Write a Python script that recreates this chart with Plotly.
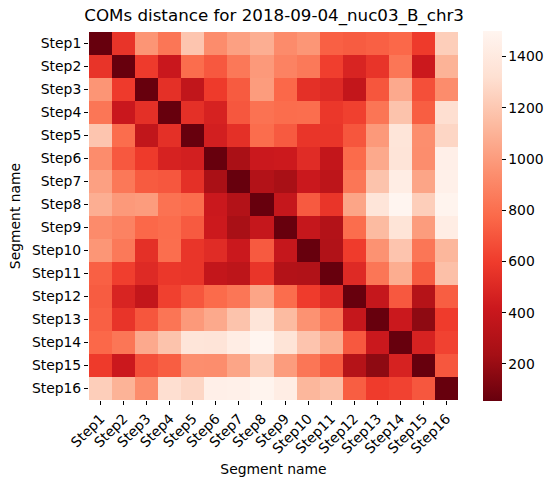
import plotly.graph_objects as go

labels = [f"Step{i}" for i in range(1, 17)]

distances = [
    [55, 560, 970, 830, 1190, 930, 1020, 1080, 925, 975, 740, 722, 740, 770, 590, 1230],
    [560, 55, 593, 405, 790, 710, 840, 990, 885, 845, 608, 480, 562, 830, 415, 1102],
    [970, 593, 55, 540, 370, 590, 720, 1000, 770, 540, 510, 380, 700, 1060, 675, 930],
    [830, 405, 540, 55, 540, 470, 705, 815, 790, 795, 575, 615, 828, 1178, 730, 1315],
    [1190, 790, 370, 540, 55, 450, 540, 790, 715, 565, 565, 700, 990, 1360, 938, 1270],
    [930, 710, 590, 470, 450, 55, 260, 410, 420, 520, 380, 780, 1058, 1355, 935, 1450],
    [1020, 840, 720, 705, 540, 260, 55, 300, 255, 410, 350, 830, 1178, 1430, 1040, 1460],
    [1080, 990, 1000, 815, 790, 410, 300, 55, 390, 715, 565, 1040, 1360, 1500, 1230, 1490],
    [925, 885, 770, 790, 715, 420, 255, 390, 55, 390, 300, 790, 1140, 1350, 1000, 1430],
    [975, 845, 540, 795, 565, 520, 410, 715, 390, 55, 295, 595, 960, 1185, 830, 1120],
    [740, 608, 510, 575, 565, 380, 350, 565, 300, 295, 55, 510, 830, 1075, 720, 1165],
    [722, 480, 380, 615, 700, 780, 830, 1040, 790, 595, 510, 55, 390, 710, 310, 730],
    [740, 562, 700, 828, 990, 1058, 1178, 1360, 1140, 960, 830, 390, 55, 410, 170, 595],
    [770, 830, 1060, 1178, 1360, 1355, 1430, 1500, 1350, 1185, 1075, 710, 410, 55, 470, 625],
    [590, 415, 675, 730, 938, 935, 1040, 1230, 1000, 830, 720, 310, 170, 470, 55, 705],
    [1230, 1102, 930, 1315, 1270, 1450, 1460, 1490, 1430, 1120, 1165, 730, 595, 625, 705, 55],
]

cbar_ticks = [200, 400, 600, 800, 1000, 1200, 1400]

reds_r = [
    [0.0, "rgb(103,0,13)"],
    [0.125, "rgb(165,15,21)"],
    [0.25, "rgb(203,24,29)"],
    [0.375, "rgb(239,59,44)"],
    [0.5, "rgb(251,106,74)"],
    [0.625, "rgb(252,146,114)"],
    [0.75, "rgb(252,187,161)"],
    [0.875, "rgb(254,224,210)"],
    [1.0, "rgb(255,245,240)"],
]

font = "DejaVu Sans"

fig = go.Figure(
    go.Heatmap(
        z=distances,
        x=labels,
        y=labels,
        colorscale=reds_r,
        zmin=55,
        zmax=1500,
        xgap=0,
        ygap=0,
        colorbar=dict(
            xref="container",
            x=483 / 556,
            xanchor="left",
            xpad=0,
            ypad=0,
            thickness=19,
            lenmode="pixels",
            len=370,
            y=0.5,
            yanchor="middle",
            outlinewidth=0,
            tickvals=cbar_ticks,
            ticks="outside",
            ticklen=4,
            tickwidth=1,
            tickcolor="black",
            tickfont=dict(family=font, size=13.9, color="black"),
        ),
    )
)

fig.update_layout(
    width=556,
    height=486,
    margin=dict(l=89, r=98, t=32, b=84),
    paper_bgcolor="white",
    plot_bgcolor="white",
    title=dict(
        text="COMs distance for 2018-09-04_nuc03_B_chr3",
        x=0.493,
        xanchor="center",
        y=1 - 15 / 486,
        yanchor="middle",
        font=dict(family=font, size=16.7, color="black"),
    ),
    font=dict(family=font, color="black"),
)

fig.update_xaxes(
    tickangle=-45,
    ticks="outside",
    ticklen=4,
    tickwidth=1,
    tickcolor="black",
    tickfont=dict(family=font, size=13.9, color="black"),
    showgrid=False,
    zeroline=False,
    showline=False,
    title=dict(text="Segment name", font=dict(family=font, size=13.9, color="black"), standoff=8),
)
fig.update_yaxes(
    autorange="reversed",
    ticks="outside",
    ticklen=4,
    tickwidth=1,
    tickcolor="black",
    tickfont=dict(family=font, size=13.9, color="black"),
    showgrid=False,
    zeroline=False,
    showline=False,
    title=dict(text="Segment name", font=dict(family=font, size=13.9, color="black"), standoff=8),
)

fig.write_html("out.html")
